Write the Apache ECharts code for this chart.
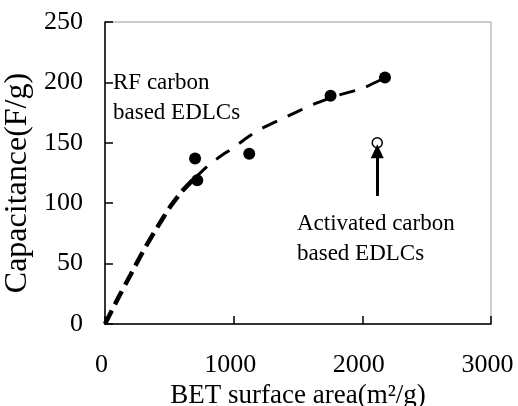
<!DOCTYPE html>
<html>
<head>
<meta charset="utf-8">
<script src="https://cdn.jsdelivr.net/npm/echarts@6/dist/echarts.min.js"></script>
<style>html,body{margin:0;padding:0;background:#fff}#c{width:518px;height:406px}</style>
</head>
<body>
<div id="c"></div>
<script>
// RF carbon based EDLCs (filled circles)
const rfBET = [700, 717, 1121, 1753, 2176];
const rfCap = [137, 119, 141, 189, 204];
// Activated carbon based EDLC (open circle)
const acBET = [2116];
const acCap = [150];
// Dashed trend curve
const curveX = [0, 100, 200, 300, 400, 500, 600, 700, 800, 900, 1000, 1100, 1200, 1400, 1600, 1800, 2000, 2180];
const curveY = [0, 21, 41, 61, 79, 96, 110, 121, 131, 139, 146, 154, 161, 171, 181, 189, 195, 204];
const splitIdx = 7; // thick dashes up to here
// Arrow (data coords) pointing at activated carbon point
const arrowX = 2116;
const arrowFrom = 106;
const arrowTo = 143;
const xTicks = [0, 1000, 2000, 3000];
const yTicks = [0, 50, 100, 150, 200, 250];

const FONT = 'Liberation Serif';
const pairs = (xs, ys) => xs.map((x, i) => [x, ys[i]]);
const curve = pairs(curveX, curveY);

const chart = echarts.init(document.getElementById('c'));
chart.setOption({
  animation: false,
  backgroundColor: '#fff',
  grid: { left: 105, right: 27, top: 22, bottom: 82, show: true, borderColor: '#999', borderWidth: 1, backgroundColor: 'transparent', outerBoundsMode: 'none', containLabel: false },
  xAxis: {
    type: 'value', min: xTicks[0], max: xTicks[xTicks.length - 1], interval: 1000,
    axisLine: { lineStyle: { color: '#000', width: 1.5 } },
    axisTick: { inside: true, length: 8, lineStyle: { color: '#000', width: 1.5 } },
    axisLabel: { color: '#000', fontFamily: FONT, fontSize: 26, margin: 28, padding: [0, 7, 0, 0], formatter: v => String(v) },
    splitLine: { show: false },
    name: 'BET surface area(m²/g)', nameLocation: 'middle', nameGap: 54,
    nameTextStyle: { color: '#000', fontFamily: FONT, fontSize: 27 }
  },
  yAxis: {
    type: 'value', min: yTicks[0], max: yTicks[yTicks.length - 1], interval: 50,
    axisLine: { show: true, lineStyle: { color: '#000', width: 1.5 } },
    axisTick: { show: true, inside: true, length: 8, lineStyle: { color: '#000', width: 1.5 } },
    axisLabel: { color: '#000', fontFamily: FONT, fontSize: 26, margin: 22, formatter: v => String(v) },
    splitLine: { show: false }
  },
  graphic: [
    { type: 'text', x: 18, y: 183, rotation: Math.PI / 2,
      style: { text: 'Capacitance(F/g)', fontFamily: FONT, fontSize: 32, fill: '#000', align: 'center', verticalAlign: 'middle' } },
    { type: 'text', left: 113, top: 68,
      style: { text: 'RF carbon\nbased EDLCs', fontFamily: FONT, fontSize: 23, lineHeight: 30, fill: '#000' } },
    { type: 'text', left: 297, top: 209,
      style: { text: 'Activated carbon\nbased EDLCs', fontFamily: FONT, fontSize: 23, lineHeight: 30, fill: '#000' } }
  ],
  series: [
    { type: 'line', data: curve.slice(0, splitIdx + 1), smooth: 0.15, symbol: 'none',
      lineStyle: { color: '#000', width: 4.5, type: [15, 7] }, z: 2 },
    { type: 'line', data: curve.slice(splitIdx), smooth: 0.15, symbol: 'none',
      lineStyle: { color: '#000', width: 3, type: [16, 12] }, z: 2 },
    { type: 'scatter', data: pairs(rfBET, rfCap), symbol: 'circle', symbolSize: 12,
      itemStyle: { color: '#000', opacity: 1 }, z: 3 },
    { type: 'scatter', data: pairs(acBET, acCap), symbol: 'circle', symbolSize: 10,
      itemStyle: { color: '#fff', borderColor: '#000', borderWidth: 1.5, opacity: 1 }, z: 3,
      markLine: {
        silent: true, animation: false,
        symbol: ['none', 'triangle'], symbolSize: [13, 14],
        label: { show: false },
        lineStyle: { color: '#000', width: 3, type: 'solid', opacity: 1 },
        data: [[{ coord: [arrowX, arrowFrom] }, { coord: [arrowX, arrowTo] }]]
      } }
  ]
});
</script>
</body>
</html>
